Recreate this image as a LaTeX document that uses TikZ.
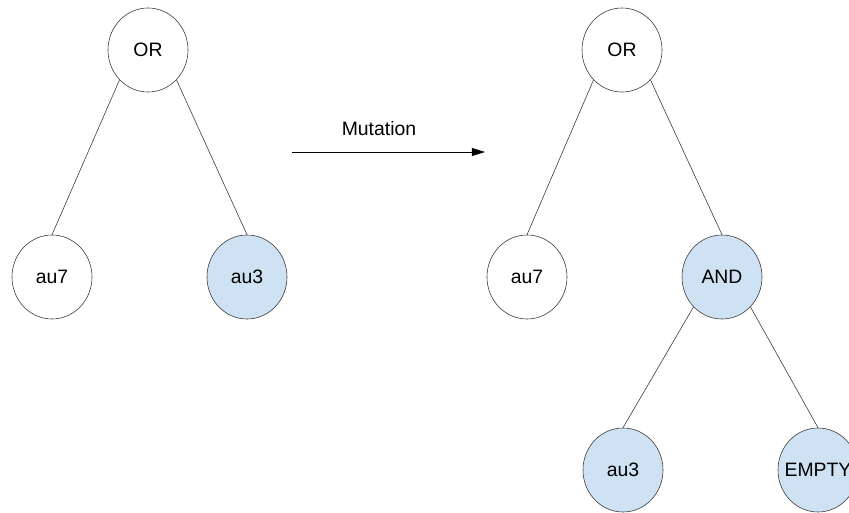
\documentclass[tikz,border=0pt]{standalone}
\usepackage{fontspec}
\setmainfont{Liberation Sans}
\usetikzlibrary{shapes.geometric,arrows.meta}
\definecolor{mutblue}{HTML}{CFE2F3}
\definecolor{linegray}{HTML}{333333}

\begin{document}
\begin{tikzpicture}[x=0.025cm,y=-0.025cm,
    treenode/.style={draw=linegray,ellipse,minimum width=2cm,minimum height=2.1cm,inner sep=0pt,font=\fontsize{13.8}{16}\selectfont},
    mutnode/.style={treenode,fill=mutblue}]
            \useasboundingbox (0,0) rectangle (849,513);

            % before
            \node[treenode] (OrBefore) at (148,50) {OR};
            \node[treenode] (AuSevenBefore) at (52,277) {au7};
            \node[mutnode] (AuThreeBefore) at (247,277) {au3};

            % after
            \node[treenode] (OrAfter) at (622,50) {OR};
            \node[treenode] (AuSevenAfter) at (527,277) {au7};
            \node[mutnode] (And) at (722,277) {AND};
            \node[mutnode] (AuThreeAfter) at (623,470) {au3};
            \node[mutnode] (Empty) at (818,470) {\makebox[0pt]{EMPTY}};

            \coordinate (MutStart) at (292,152);
            \coordinate (MutEnd) at (485,152);
            \node[font=\fontsize{13.8}{16}\selectfont] (Mutation) at (379,129) {Mutation};

            \draw[linegray] (OrBefore.south west) to (AuSevenBefore.north);
            \draw[linegray] (OrBefore.south east) to (AuThreeBefore.north);
            \draw[linegray] (OrAfter.south west) to (AuSevenAfter.north);
            \draw[linegray] (OrAfter.south east) to (And.north);
            \draw[linegray] (And.south west) to (AuThreeAfter.north);
            \draw[linegray] (And.south east) to (Empty.north);
            \draw[-{Triangle[length=0.33cm,width=0.2cm]},black] (MutStart) to (MutEnd);

        \end{tikzpicture}
\end{document}
